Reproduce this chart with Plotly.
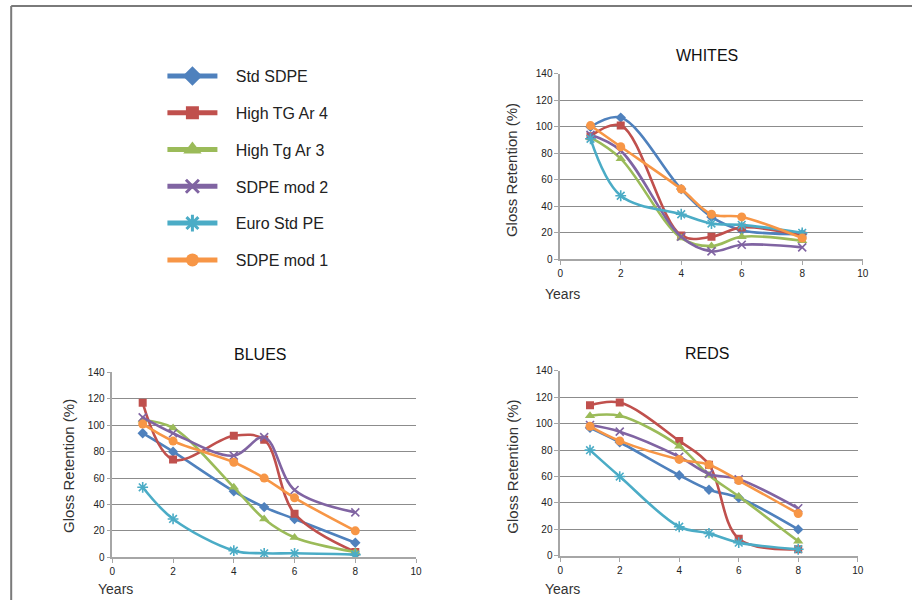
import plotly.graph_objects as go

years = [1, 2, 4, 5, 6, 8]

series_names = ["Std SDPE", "High TG Ar 4", "High Tg Ar 3", "SDPE mod 2", "Euro Std PE", "SDPE mod 1"]
colors = ["#4F81BD", "#C0504D", "#9BBB59", "#8064A2", "#4BACC6", "#F79646"]
symbols = ["diamond", "square", "triangle-up", "x-thin-open", "asterisk-open", "circle"]
marker_sizes = [8, 8, 9, 8, 9, 9]
legend_marker_sizes = [15, 13, 17, 13, 14, 13]

whites = {
    "Std SDPE":     [100, 107, 53, 32, 22, 19],
    "High TG Ar 4": [93, 101, 18, 17, 24, 18],
    "High Tg Ar 3": [92, 76, 16, 10, 17, 14],
    "SDPE mod 2":   [94, 82, 17, 6, 11, 9],
    "Euro Std PE":  [91, 48, 34, 27, 26, 20],
    "SDPE mod 1":   [101, 85, 53, 34, 32, 16],
}
blues = {
    "Std SDPE":     [94, 80, 50, 38, 29, 11],
    "High TG Ar 4": [117, 74, 92, 89, 33, 4],
    "High Tg Ar 3": [104, 98, 53, 29, 15, 4],
    "SDPE mod 2":   [106, 94, 77, 91, 51, 34],
    "Euro Std PE":  [53, 29, 5, 3, 3, 2],
    "SDPE mod 1":   [101, 88, 72, 60, 45, 20],
}
reds = {
    "Std SDPE":     [97, 86, 61, 50, 44, 20],
    "High TG Ar 4": [114, 116, 87, 69, 13, 5],
    "High Tg Ar 3": [106, 106, 83, 61, 45, 11],
    "SDPE mod 2":   [99, 94, 75, 62, 58, 36],
    "Euro Std PE":  [80, 60, 22, 17, 10, 5],
    "SDPE mod 1":   [98, 87, 73, 69, 57, 32],
}

panel_titles = ["WHITES", "BLUES", "REDS"]
x_ticks = [0, 2, 4, 6, 8, 10]
y_ticks = [0, 20, 40, 60, 80, 100, 120, 140]

W, H = 918, 606
FONT = "Liberation Sans, Arial, sans-serif"

# map a target pixel position to paper coordinates (with a small
# empirical correction for the rendering)
def px_x(p):
    return min(max(((p - 2.3) / 0.991) / W, 0), 1)

def px_y(p):
    return min(max(1 - ((p - 5.5) / 0.98) / H, 0), 1)

# panel pixel boxes: (left, right, top, bottom)
boxes = [
    (560, 862.7, 74.3, 259.3),
    (111.7, 415.7, 372.3, 556.7),
    (560, 857.7, 370.7, 555.3),
]
title_pos = [(707, 56), (260, 354), (707, 353)]
ytitle_pos = [(512, 170), (68, 466), (512, 466)]
years_pos = [(543, 294), (95, 588), (543, 588)]
datasets = [whites, blues, reds]

fig = go.Figure()

for pi, (data, box) in enumerate(zip(datasets, boxes)):
    suffix = "" if pi == 0 else str(pi + 1)
    for i, name in enumerate(series_names):
        c = colors[i]
        sym = symbols[i]
        marker = dict(symbol=sym, size=marker_sizes[i], color=c)
        if "open" in sym:
            marker["line"] = dict(color=c, width=1.6)
        fig.add_trace(go.Scatter(
            x=years, y=data[name], mode="lines+markers", name=name,
            line=dict(color=c, width=2.6, shape="spline", smoothing=1.0),
            marker=marker, showlegend=False,
            xaxis="x" + suffix, yaxis="y" + suffix,
        ))

# legend-only entries (no data points)
GAP = "\u00a0" * 3
for i, name in enumerate(series_names):
    c = colors[i]
    sym = symbols[i]
    marker = dict(symbol=sym, size=legend_marker_sizes[i], color=c)
    if "open" in sym:
        marker["line"] = dict(color=c, width=3)
    fig.add_trace(go.Scatter(
        x=[None], y=[None], mode="lines+markers", name=GAP + name,
        line=dict(color=c, width=5), marker=marker,
        legendgroup="g%d" % i, showlegend=True,
    ))

axis_common = dict(
    showline=True, linecolor="#a6a6a6", linewidth=1.5,
    ticks="outside", ticklen=4, tickcolor="#a6a6a6", tickwidth=1,
    tickfont=dict(family=FONT, size=10, color="#222222"),
    zeroline=False, fixedrange=True,
)

layout = dict(
    width=W, height=H,
    margin=dict(l=0, r=0, t=0, b=0),
    paper_bgcolor="white", plot_bgcolor="white",
    font=dict(family=FONT, color="#222222"),
    showlegend=True,
    hovermode=False,
    legend=dict(
        x=161 / W, y=1 - 55 / H, xanchor="left", yanchor="top",
        font=dict(family=FONT, size=16, color="#222222"),
        tracegroupgap=13, itemwidth=50, bgcolor="rgba(0,0,0,0)",
        traceorder="grouped",
    ),
)

annotations = []
for pi, box in enumerate(boxes):
    suffix = "" if pi == 0 else str(pi + 1)
    l, r, t, b = box
    layout["xaxis" + suffix] = dict(
        axis_common, domain=[px_x(l), px_x(r)], range=[0, 10],
        tickvals=x_ticks, showgrid=False, anchor="y" + suffix,
    )
    layout["yaxis" + suffix] = dict(
        axis_common, domain=[px_y(b), px_y(t)], range=[0, 140],
        tickvals=y_ticks, showgrid=True, gridcolor="#8c8c8c", gridwidth=1,
        anchor="x" + suffix,
    )
    tx, ty = title_pos[pi]
    annotations.append(dict(
        text=panel_titles[pi], xref="paper", yref="paper",
        x=px_x(tx), y=px_y(ty), xanchor="center", yanchor="middle",
        showarrow=False, font=dict(family=FONT, size=16, color="#111111"),
    ))
    gx, gy = ytitle_pos[pi]
    annotations.append(dict(
        text="Gloss Retention (%)", xref="paper", yref="paper",
        x=px_x(gx), y=px_y(gy), xanchor="center", yanchor="middle",
        textangle=-90, showarrow=False,
        font=dict(family=FONT, size=15, color="#333333"),
    ))
    yx, yy = years_pos[pi]
    annotations.append(dict(
        text="Years", xref="paper", yref="paper",
        x=px_x(yx), y=px_y(yy), xanchor="left", yanchor="middle",
        showarrow=False, font=dict(family=FONT, size=14, color="#333333"),
    ))

layout["annotations"] = annotations
layout["shapes"] = [
    dict(type="line", xref="paper", yref="paper", x0=px_x(10.5), x1=1,
         y0=px_y(6.5), y1=px_y(6.5), line=dict(color="#7a7a7a", width=2)),
    dict(type="line", xref="paper", yref="paper", x0=px_x(10.5), x1=px_x(10.5),
         y0=0, y1=px_y(6.5), line=dict(color="#7a7a7a", width=2)),
]

fig.update_layout(**layout)
fig.write_html(
    "out.html",
    config={"displayModeBar": False},
    post_script=(
        "document.documentElement.style.margin='0';"
        "document.body.style.margin='0';"
        "document.documentElement.style.overflow='hidden';"
        "document.body.style.overflow='hidden';"
        "var gd=document.getElementById('{plot_id}');"
        "gd.style.position='fixed';gd.style.left='0px';gd.style.top='0px';"
    ),
)
